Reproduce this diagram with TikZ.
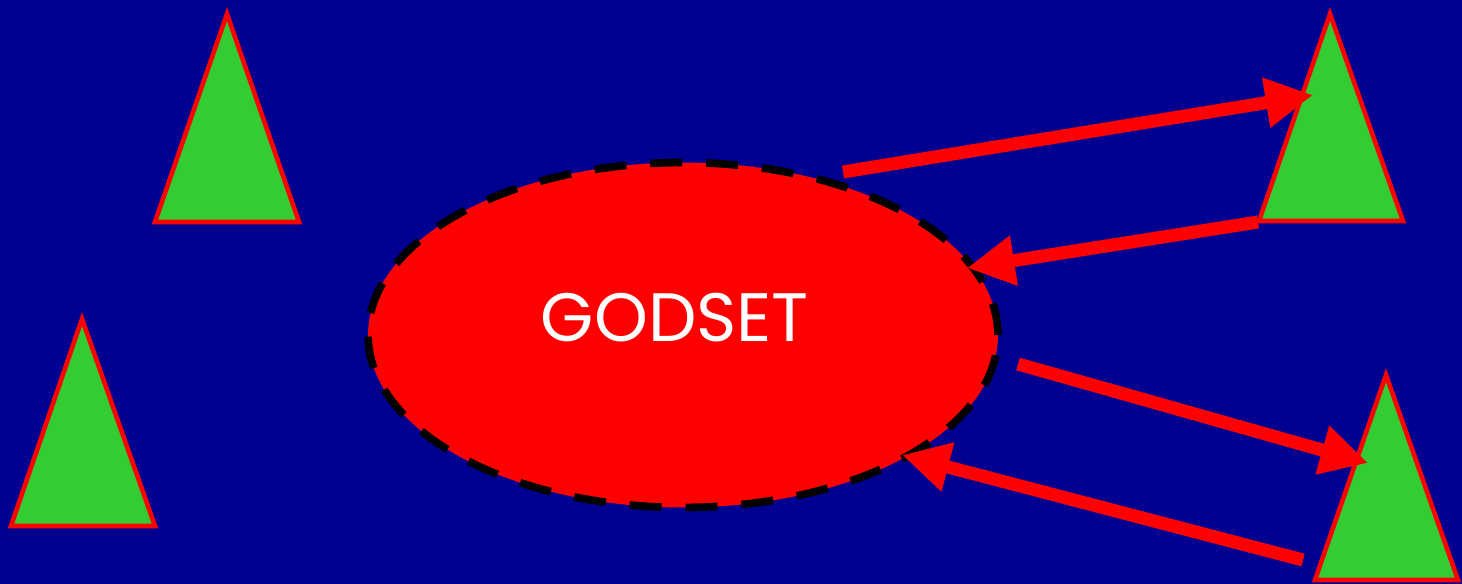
\documentclass[tikz,border=0pt]{standalone}
\usepackage{fontspec}
\setmainfont{Poppins}
\usepackage{tikz}
\usetikzlibrary{arrows.meta,shapes.geometric}
\definecolor{bgBlue}{RGB}{0,0,144}
\definecolor{treeGreen}{RGB}{51,204,51}
\definecolor{setRed}{RGB}{255,0,0}
\tikzset{
  tree/.style={draw=setRed, fill=treeGreen, line width=2.6pt, line join=miter},
  godblob/.style={ellipse, fill=setRed, draw=black, line width=4.4pt, dash pattern=on 0.64cm off 0.48cm, minimum width=12.6cm, minimum height=6.9cm},
  arrow/.style={-{Triangle[length=0.95cm,width=0.95cm]}, line width=7.4pt, draw=setRed}
}

\begin{document}
\begin{tikzpicture}[x=0.02cm, y=-0.02cm]
  \fill[bgBlue] (0,0) rectangle (1462,584);
  \useasboundingbox (0,0) rectangle (1462,584);
  % trees
  \draw[tree] (227,14) -- (299,222) -- (155,222) -- cycle;
  \draw[tree] (82,319) -- (155,526) -- (11,526) -- cycle;
  \draw[tree] (1330,14) -- (1403,221) -- (1259,221) -- cycle;
  \draw[tree] (1386,375) -- (1458,580) -- (1315,580) -- cycle;
  % the set
  \node[godblob] (godset) at (683,335) {};
  \node[font=\fontsize{39}{46}\selectfont, text=white] (title) at (675,318) {GODSET};
  % arrow ends
  \coordinate (outA) at (843,172);
  \coordinate (treeA) at (1313,95);
  \coordinate (inA) at (1258,222);
  \coordinate (setA) at (967,268);
  \coordinate (outB) at (1018,364);
  \coordinate (treeB) at (1368,463);
  \coordinate (inB) at (1303,560);
  \coordinate (setB) at (902,455);
  \draw[arrow] (outA) -- (treeA);
  \draw[arrow] (inA) -- (setA);
  \draw[arrow] (outB) -- (treeB);
  \draw[arrow] (inB) -- (setB);
\end{tikzpicture}
\end{document}
